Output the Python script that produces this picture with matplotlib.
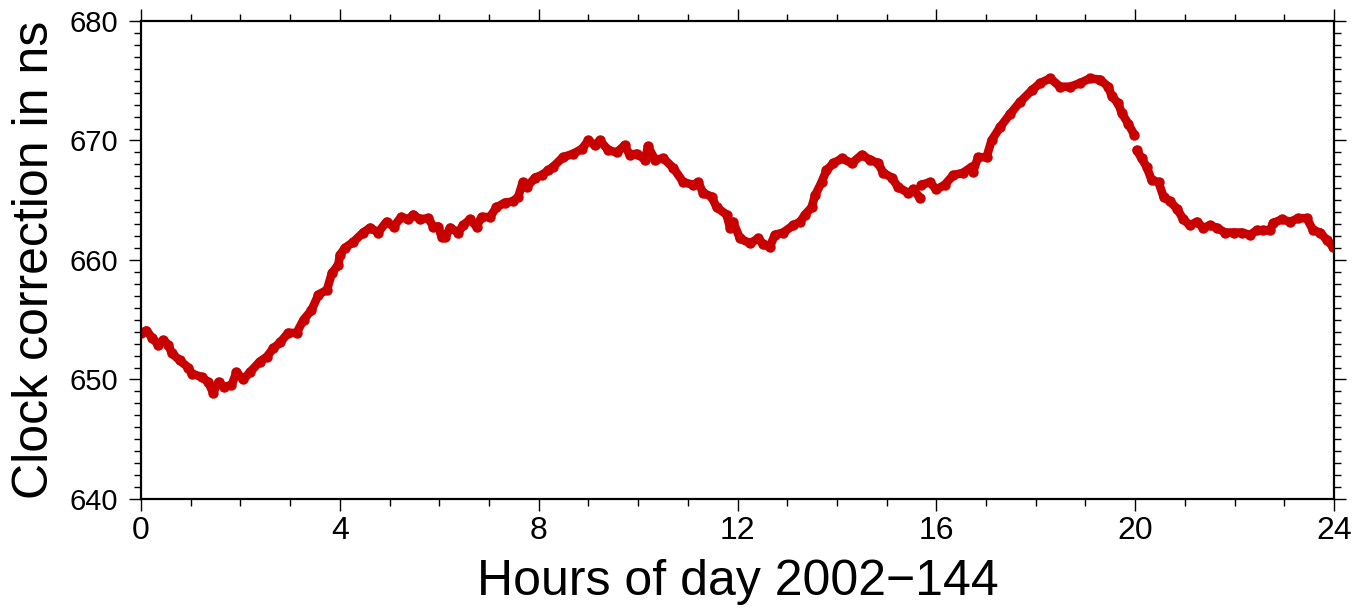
import matplotlib

matplotlib.use("Agg")
import matplotlib.pyplot as plt
import numpy as np
from matplotlib.ticker import MultipleLocator

plt.rcParams["font.family"] = ["Liberation Sans", "DejaVu Sans"]

# clock correction (hours, ns); nan marks a data gap
hours = [
    0.01, 0.11, 0.22, 0.35, 0.45, 0.55, 0.62, 0.78, 0.95, 1.02, 1.22, 1.35, 1.45,
    1.56, 1.66, 1.82, 1.92, 2.06, 2.19, 2.39, 2.53, 2.66, 2.80, 2.96, 3.13, 3.27,
    3.43, 3.57, 3.74, 3.84, 3.97, 4.00, 4.10, 4.27, 4.47, 4.61, 4.77, 4.94, 5.08,
    5.24, 5.38, 5.48, 5.61, 5.78, 5.88, 5.98, 6.05, 6.12, 6.22, 6.38, 6.48, 6.62,
    6.75, 6.85, 7.02, 7.15, 7.32, 7.49, 7.59, 7.68, 7.76, 7.93, 8.06, 8.19, 8.29,
    8.49, 8.70, 8.87, 9.00, 9.13, 9.23, 9.40, 9.57, 9.73, 9.83, 9.97, 10.14, 10.20,
    10.34, 10.51, 10.71, 10.91, 11.11, 11.21, 11.31, 11.48, 11.58, 11.78, 11.85,
    11.91, 12.05, 12.25, 12.42, 12.52, 12.65, 12.75, 12.92, 13.12, 13.26, 13.36,
    13.49, 13.56, 13.69, 13.79, 13.93, 14.10, 14.30, 14.50, 14.66, 14.83, 14.93,
    15.10, 15.23, 15.44, 15.54, 15.67, 15.685, 15.70, 15.87, 16.00, 16.17, 16.34,
    16.54, 16.71, 16.74, 16.84, 17.01, 17.11, 17.28, 17.48, 17.68, 17.92, 18.09,
    18.29, 18.49, 18.69, 18.89, 19.09, 19.29, 19.46, 19.53, 19.66, 19.73, 19.86,
    19.98, 20.005, 20.03, 20.13, 20.23, 20.33, 20.47, 20.57, 20.70, 20.84, 20.97,
    21.10, 21.24, 21.37, 21.51, 21.64, 21.81, 21.98, 22.14, 22.31, 22.45, 22.58,
    22.71, 22.78, 22.95, 23.12, 23.28, 23.45, 23.58, 23.72, 23.85, 23.98,
]
correction = [
    653.9, 654.1, 653.5, 652.9, 653.3, 652.9, 652.2, 651.6, 651.0, 650.5, 650.2, 649.8, 648.9,
    649.8, 649.4, 649.5, 650.6, 650.0, 650.6, 651.5, 651.9, 652.6, 653.1, 653.9, 653.9, 655.0,
    655.8, 657.1, 657.5, 658.9, 659.6, 660.4, 661.0, 661.5, 662.3, 662.7, 662.3, 663.2, 662.8,
    663.6, 663.4, 663.8, 663.4, 663.5, 662.8, 662.8, 661.9, 661.9, 662.7, 662.3, 662.9, 663.4,
    662.8, 663.6, 663.6, 664.4, 664.8, 664.9, 665.3, 666.5, 666.1, 666.9, 667.1, 667.5, 667.8,
    668.6, 668.9, 669.3, 670.0, 669.6, 670.0, 669.2, 669.0, 669.6, 668.8, 668.9, 668.4, 669.5,
    668.4, 668.5, 667.7, 666.5, 666.3, 666.5, 665.6, 665.3, 664.4, 663.8, 662.7,
    663.2, 661.8, 661.4, 661.8, 661.3, 661.1, 662.1, 662.3, 662.9, 663.2, 663.8,
    664.4, 665.4, 666.5, 667.5, 668.1, 668.5, 668.1, 668.8, 668.4, 668.1, 667.3,
    666.9, 666.1, 665.6, 665.9, 665.2, np.nan, 666.3, 666.5, 665.9, 666.3, 667.1,
    667.3, 667.8, 667.4, 668.6, 668.6, 670.0, 671.1, 672.2, 673.2, 674.2, 674.8,
    675.2, 674.5, 674.5, 674.8, 675.2, 675.1, 674.5, 673.7, 673.1, 672.3, 671.4,
    670.5, np.nan, 669.2, 668.5, 667.8, 666.7, 666.5, 665.3, 664.9, 664.3, 663.4,
    662.9, 663.2, 662.7, 662.9, 662.7, 662.3, 662.3, 662.3, 662.1, 662.5, 662.5,
    662.5, 663.1, 663.4, 663.2, 663.5, 663.5, 662.5, 662.3, 661.7, 661.1,
]

RED = "#c80000"

fig = plt.figure(figsize=(13.54, 6.09), dpi=100)
ax = fig.add_axes([141 / 1354, 1 - 499 / 609, 1193 / 1354, 478 / 609])

ax.plot(hours, correction, color=RED, lw=6.2, solid_capstyle="round",
        solid_joinstyle="round", marker="o", ms=6.5, mec=RED, mfc=RED)

ax.set_xlim(0, 24)
ax.set_ylim(640, 680)
ax.xaxis.set_major_locator(MultipleLocator(4))
ax.xaxis.set_minor_locator(MultipleLocator(1))
ax.yaxis.set_major_locator(MultipleLocator(10))
ax.yaxis.set_minor_locator(MultipleLocator(1))

for side in ax.spines.values():
    side.set_linewidth(1.6)

ax.tick_params(which="both", direction="out", top=True, right=True, width=1.0,
               colors="black")
ax.tick_params(which="major", length=8.5)
ax.tick_params(which="minor", length=5)
ax.tick_params(axis="x", pad=3.5)
ax.tick_params(axis="y", pad=8, labelsize=21)

# the hour labels are set in a narrow face, as in the original
for lab in ax.get_xticklabels():
    lab.set_fontfamily(["Liberation Sans Narrow", "Liberation Sans"])
    lab.set_fontsize(23)

ax.set_xlabel("Hours of day 2002\u2212144", fontsize=36)
ax.set_ylabel("Clock correction in ns", fontsize=36)
ax.xaxis.set_label_coords(0.5, -0.174)
ax.xaxis.label.set_va("center")
ax.yaxis.set_label_coords(-0.089, 0.5)
ax.yaxis.label.set_va("center")

fig.savefig("out.png", dpi=100)
